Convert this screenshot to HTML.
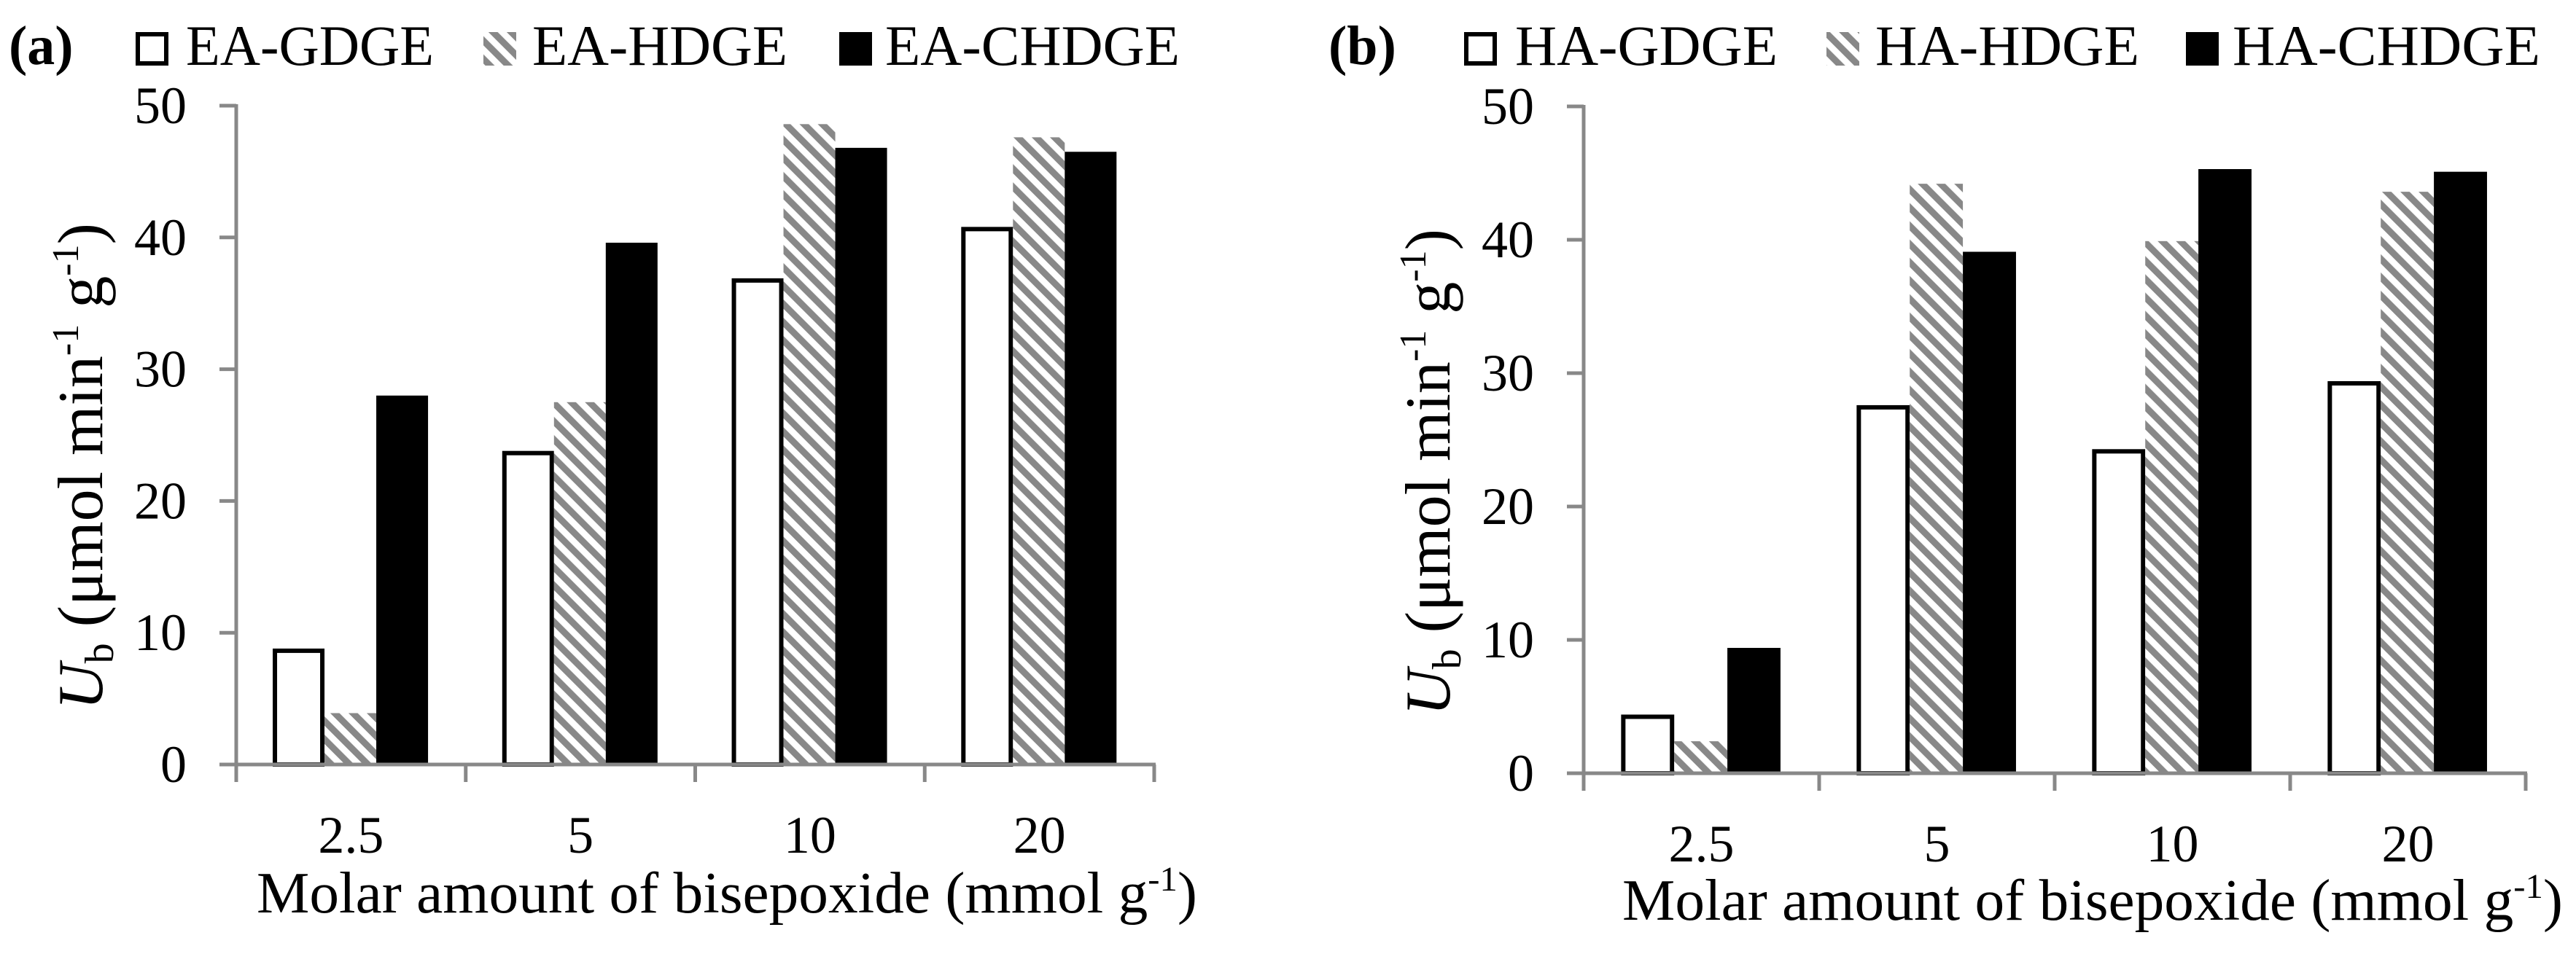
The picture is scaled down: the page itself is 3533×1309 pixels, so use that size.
<!DOCTYPE html>
<html><head><meta charset="utf-8">
<style>
html,body{margin:0;padding:0;background:#fff;}
svg{display:block;}
text{font-family:"Liberation Serif",serif;fill:#000;}
</style></head>
<body>
<svg id="chart" width="3533" height="1309" viewBox="0 0 3533 1309" xmlns="http://www.w3.org/2000/svg">
<defs>
<pattern id="hatch" patternUnits="userSpaceOnUse" width="17.7" height="17.7" patternTransform="rotate(-45)">
<rect x="0" y="0" width="17.7" height="17.7" fill="#fff"/>
<rect x="0" y="0" width="9" height="17.7" fill="#888"/>
</pattern>
</defs>
<g id="panelA"></g>
<g id="panelB"></g>
</svg>
<script>
const categories = ["2.5", "5", "10", "20"];
const yTicks = [0, 10, 20, 30, 40, 50];
const seriesNamesA = ["EA-GDGE", "EA-HDGE", "EA-CHDGE"];
const seriesNamesB = ["HA-GDGE", "HA-HDGE", "HA-CHDGE"];
const aGDGE = [8.8, 23.8, 36.9, 40.8];
const aHDGE = [3.9, 27.5, 48.6, 47.6];
const aCHDGE = [28.0, 39.6, 46.8, 46.5];
const bGDGE = [4.4, 27.6, 24.3, 29.4];
const bHDGE = [2.4, 44.2, 39.9, 43.6];
const bCHDGE = [9.4, 39.1, 45.3, 45.1];

const NS = "http://www.w3.org/2000/svg";
function mk(tag, attrs, parent) {
  const e = document.createElementNS(NS, tag);
  for (const k in attrs) e.setAttribute(k, attrs[k]);
  parent.appendChild(e);
  return e;
}
const fills = ["#fff", "url(#hatch)", "#000"];

function drawPanel(g, cfg) {
  const { x0, x1, y0, y50, series, names } = cfg;
  const yScale = v => y0 - (v / 50) * (y0 - y50);
  const catW = (x1 - x0) / categories.length;
  const xBand = i => x0 + i * catW;
  const barW = catW * 0.2256;
  const off = catW * 0.159;

  series.forEach((vals, s) => {
    vals.forEach((v, i) => {
      const bx = xBand(i) + off + s * barW;
      const by = yScale(v);
      let r;
      if (s === 0) {
        r = mk("rect", { x: bx + 3, y: by + 3, width: barW - 6, height: y0 - by - 3, fill: "#fff", stroke: "#000", "stroke-width": 6 }, g);
      } else {
        r = mk("rect", { x: bx, y: by, width: barW, height: y0 - by, fill: fills[s] }, g);
      }
      
      
    });
  });

  const ya = mk("line", { x1: x0, y1: y50 - 2, x2: x0, y2: y0 + 2, stroke: "#888", "stroke-width": 5 }, g);
  
  
  const xa = mk("line", { x1: x0 - 2, y1: y0, x2: x1 + 2, y2: y0, stroke: "#888", "stroke-width": 5 }, g);
  
  

  yTicks.forEach(t => {
    const y = yScale(t);
    const tk = mk("line", { x1: x0 - 23, y1: y, x2: x0, y2: y, stroke: "#888", "stroke-width": 5 }, g);
    
    
    const lb = mk("text", { x: x0 - 68, y: y + 24, "font-size": 72, "text-anchor": "end" }, g);
    lb.textContent = String(t);
    
    
  });
  for (let i = 0; i <= categories.length; i++) {
    const x = xBand(i);
    const tk = mk("line", { x1: x, y1: y0, x2: x, y2: y0 + 24, stroke: "#888", "stroke-width": 5 }, g);
    
    
  }
  categories.forEach((c, i) => {
    const lb = mk("text", { x: xBand(i) + catW / 2, y: cfg.catY, "font-size": 72, "text-anchor": "middle" }, g);
    lb.textContent = c;
    
    
  });
}

function drawText(g, cfg) {
  const pl = mk("text", { x: cfg.labelX, y: 88, "font-size": 76, "font-weight": "bold" }, g);
  pl.textContent = cfg.label;
  
  
  cfg.legend.forEach((L, s) => {
    let box;
    if (s === 0) box = mk("rect", { x: L.bx + 3, y: 47, width: 39, height: 40, fill: "#fff", stroke: "#000", "stroke-width": 6 }, g);
    else box = mk("rect", { x: L.bx, y: 44, width: 45, height: 46, fill: fills[s] }, g);
    
    
    const t = mk("text", { x: L.tx, y: 89, "font-size": 78, textLength: L.tw, lengthAdjust: "spacingAndGlyphs" }, g);
    t.textContent = cfg.names[s];
    
    
  });
  const xt = mk("text", { x: cfg.xtX, y: cfg.xtY, "font-size": 80, textLength: cfg.xtW, lengthAdjust: "spacingAndGlyphs" }, g);
  xt.innerHTML = 'Molar amount of bisepoxide (mmol g<tspan font-size="48" dy="-30">-1</tspan><tspan dy="30">)</tspan>';
  
  
  const yt = mk("text", { x: 0, y: 0, "font-size": 88, "text-anchor": "middle", transform: `translate(${cfg.ytX},${cfg.ytY}) rotate(-90)` }, g);
  yt.innerHTML = '<tspan font-style="italic">U</tspan><tspan font-size="56" dy="15">b</tspan><tspan dy="-15"> (μmol min</tspan><tspan font-size="52" dy="-33">-1</tspan><tspan dy="33"> g</tspan><tspan font-size="52" dy="-33">-1</tspan><tspan dy="33">)</tspan>';
  
  
}

const gA = document.getElementById("panelA");
const gB = document.getElementById("panelB");
drawPanel(gA, { x0: 324, x1: 1583, y0: 1049, y50: 145, series: [aGDGE, aHDGE, aCHDGE], names: seriesNamesA, catY: 1170 });
drawPanel(gB, { x0: 2172, x1: 3464, y0: 1061, y50: 146, series: [bGDGE, bHDGE, bCHDGE], names: seriesNamesB, catY: 1182 });
drawText(gA, { label: "(a)", labelX: 12, names: seriesNamesA,
  legend: [{ bx: 186, tx: 255, tw: 340 }, { bx: 663, tx: 730, tw: 350 }, { bx: 1151, tx: 1214, tw: 404 }],
  xtX: 352, xtY: 1252, xtW: 1290, ytX: 140, ytY: 640 });
drawText(gB, { label: "(b)", labelX: 1822, names: seriesNamesB,
  legend: [{ bx: 2008, tx: 2078, tw: 360 }, { bx: 2505, tx: 2572, tw: 362 }, { bx: 2998, tx: 3062, tw: 422 }],
  xtX: 2225, xtY: 1262, xtW: 1290, ytX: 1988, ytY: 648 });
</script>
</body></html>
